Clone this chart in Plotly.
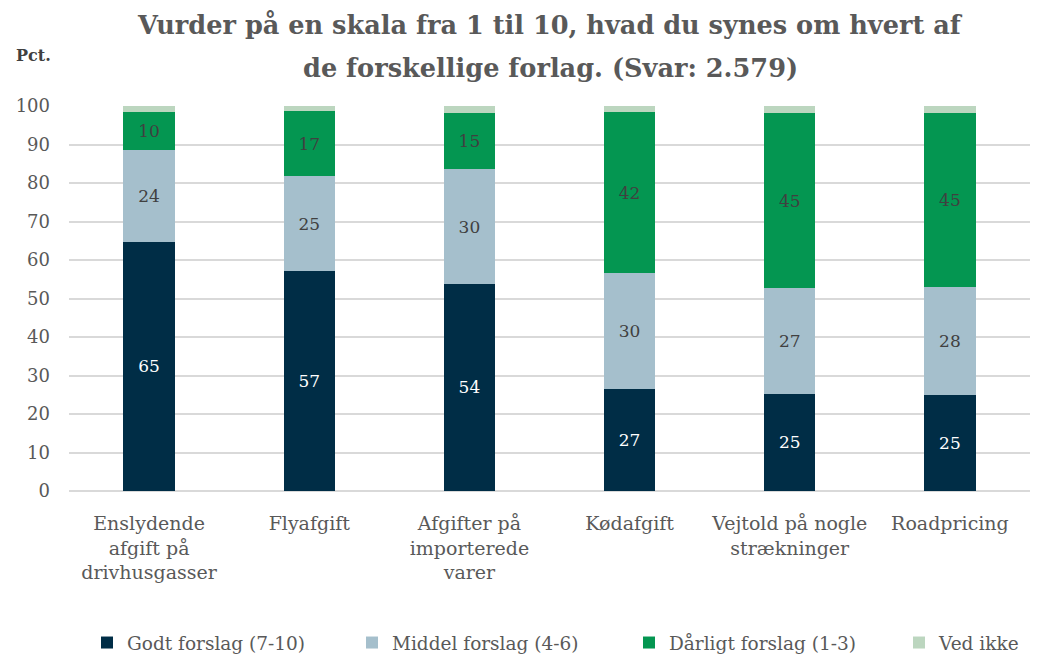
import plotly.graph_objects as go

categories = ["Enslydende<br>afgift på<br>drivhusgasser", "Flyafgift", "Afgifter på<br>importerede<br>varer",
              "Kødafgift", "Vejtold på nogle<br>strækninger", "Roadpricing"]
godt = [64.7, 57.1, 53.8, 26.6, 25.3, 24.9]
middel = [23.9, 24.7, 29.8, 29.9, 27.4, 28.1]
daarligt = [9.8, 16.9, 14.6, 41.9, 45.4, 45.2]
ved_ikke = [1.6, 1.3, 1.8, 1.6, 1.9, 1.8]
title_lines = ["Vurder på en skala fra 1 til 10, hvad du synes om hvert af",
               "de forskellige forlag. (Svar: 2.579)"]

series = [
    ("Godt forslag (7-10)", godt, "#002D46", "#FFFFFF", True),
    ("Middel forslag (4-6)", middel, "#A5BFCC", "#404040", True),
    ("Dårligt forslag (1-3)", daarligt, "#049651", "#404040", True),
    ("Ved ikke", ved_ikke, "#BCD6BF", "#404040", False),
]

# page has an 8px body margin: work in figure coords = page coords - 8
OFF = 8
W, H = 1034, 648
L, T = 69 - OFF, 106 - OFF
R = W - (1030 - OFF)
B = H - (491 - OFF)
PW, PH = W - L - R, H - T - B
legend_box_px = [104, 369, 646, 916]

def px_x(x):
    return (x - OFF - L) / PW

def px_y(y):
    return (H - B - (y - OFF)) / PH

FONT = "DejaVu Serif"
fig = go.Figure()
for i, (name, vals, color, tcolor, show) in enumerate(series):
    lg = f"legend{i+2}"
    fig.add_trace(go.Bar(
        x=categories, y=vals, name=name, marker=dict(color=color, line=dict(width=0)),
        text=[f"{v:.0f}" for v in vals] if show else None,
        texttemplate="%{text}" if show else None,
        textposition="inside" if show else "none",
        insidetextanchor="middle",
        textfont=dict(family=FONT, size=17, color=tcolor),
        textangle=0, legend=lg,
    ))
    fig.update_layout({lg: dict(orientation="h", x=px_x(legend_box_px[i] - 17), xanchor="left",
                                y=px_y(643), yanchor="middle", bgcolor="rgba(0,0,0,0)",
                                font=dict(family=FONT, size=18.5, color="#595959"))})

fig.update_layout(
    barmode="stack", bargap=0.68,
    width=W, height=H,
    margin=dict(l=L, r=R, t=T, b=B, autoexpand=False),
    paper_bgcolor="white", plot_bgcolor="white",
    font=dict(family=FONT, color="#595959", size=17),
    yaxis=dict(range=[0, 100], dtick=10, showgrid=True, gridcolor="#D9D9D9", gridwidth=1.5,
               zeroline=True, zerolinecolor="#D9D9D9", zerolinewidth=1.5,
               tickfont=dict(family=FONT, size=18, color="#595959"), ticks="", ticklen=0,
               ticklabelstandoff=18, automargin=False),
    xaxis=dict(tickfont=dict(family=FONT, size=19, color="#595959"), ticks="", showline=False,
               ticklabelstandoff=19, automargin=False),
    uniformtext=dict(minsize=10, mode="show"),
)
for txt, yy in zip(title_lines, [25, 68]):
    fig.add_annotation(text=f"<b>{txt}</b>", xref="paper", yref="paper", x=px_x(550), y=px_y(yy),
                       xanchor="center", yanchor="middle", showarrow=False,
                       font=dict(family=FONT, size=25.6, color="#595959"))
fig.add_annotation(text="<b>Pct.</b>", xref="paper", yref="paper", x=px_x(14), y=px_y(55),
                   showarrow=False, xanchor="left", yanchor="middle",
                   font=dict(family=FONT, size=16, color="#404040"))
fig.write_html("out.html")
